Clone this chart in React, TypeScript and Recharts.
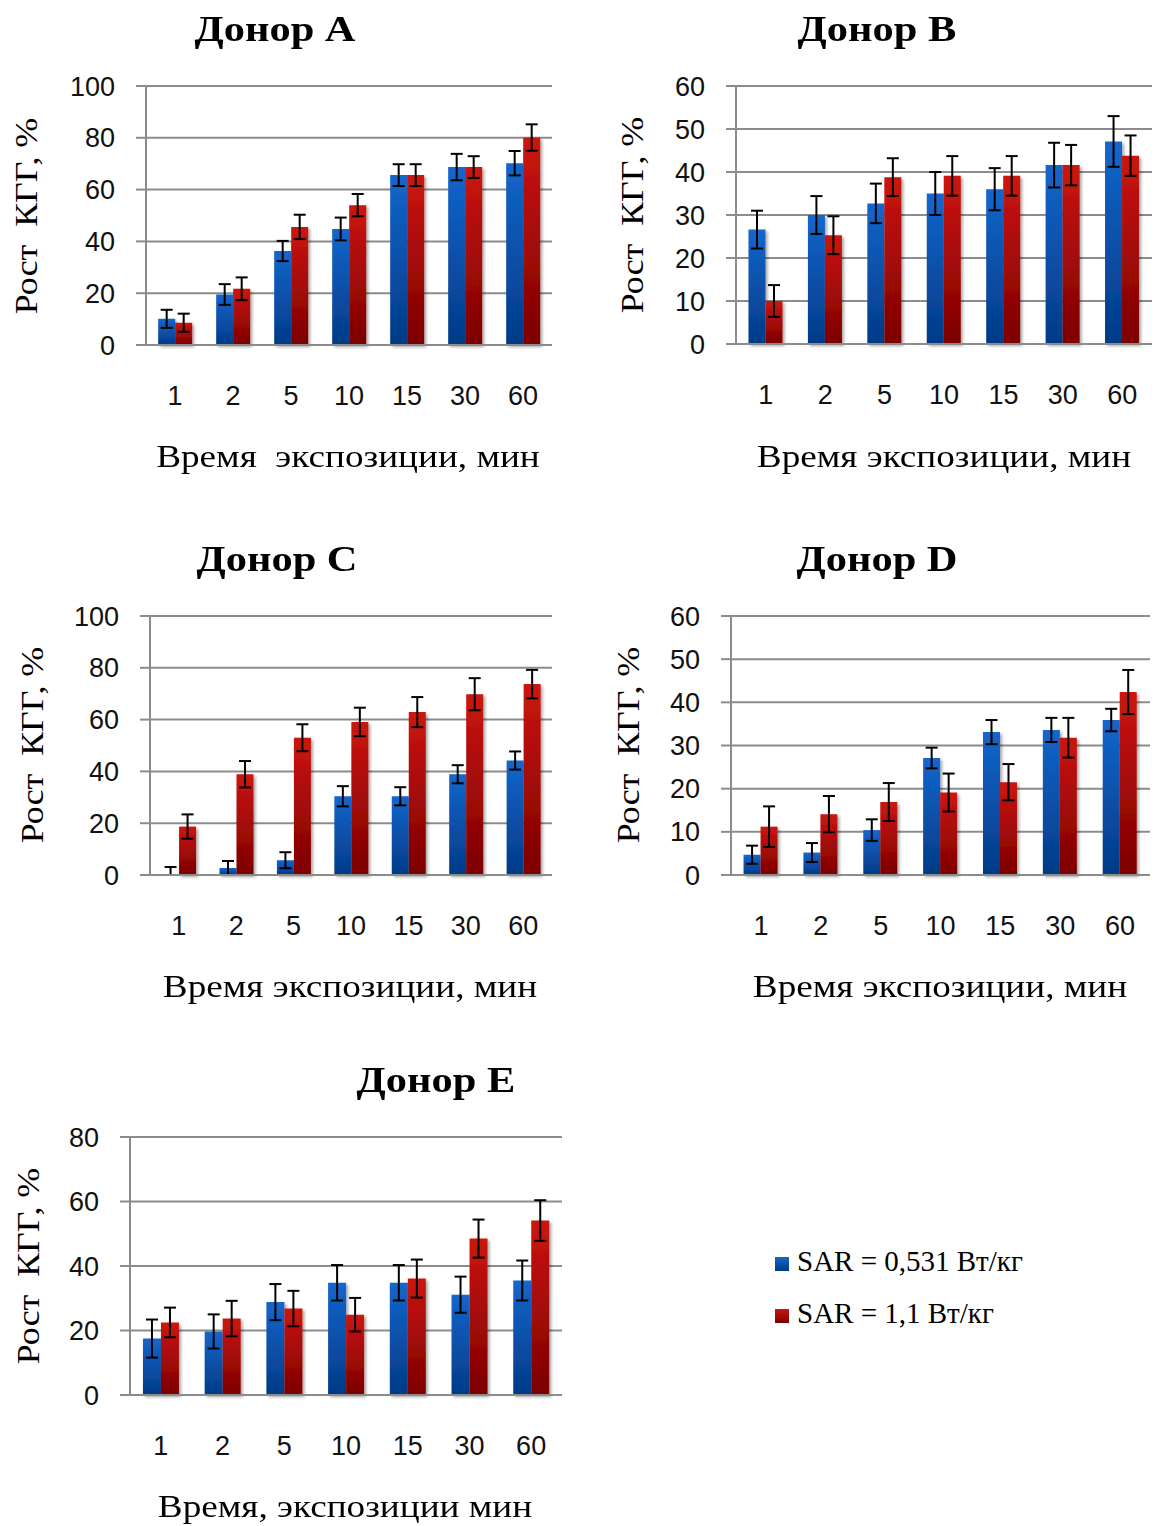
import React from 'react';
import { BarChart, Bar, XAxis, YAxis, CartesianGrid, ErrorBar, Legend } from 'recharts';

const exposure = ['1', '2', '5', '10', '15', '30', '60'];
const seriesNames = ['SAR = 0,531 Вт/кг', 'SAR = 1,1 Вт/кг'];

// Донор A
const aLow = [10.1, 19.5, 36.3, 44.8, 65.6, 68.7, 70.2];
const aLowErr = [3.5, 4.0, 3.9, 4.4, 4.2, 5.1, 4.7];
const aHigh = [8.6, 21.7, 45.6, 54.0, 65.6, 68.7, 80.1];
const aHighErr = [3.5, 4.4, 4.7, 4.3, 4.2, 4.2, 5.1];

// Донор B
const bLow = [26.6, 30.0, 32.7, 35.0, 36.0, 41.6, 47.1];
const bLowErr = [4.4, 4.4, 4.6, 5.0, 4.9, 5.2, 5.9];
const bHigh = [10.0, 25.3, 38.8, 39.1, 39.1, 41.6, 43.8];
const bHighErr = [3.7, 4.4, 4.4, 4.6, 4.6, 4.7, 4.7];

// Донор C
const cLow = [0.3, 2.7, 5.7, 30.4, 30.4, 38.9, 44.2];
const cLowErr = [2.8, 2.7, 3.1, 3.9, 3.5, 3.5, 3.5];
const cHigh = [18.7, 38.9, 53.0, 59.1, 62.9, 69.8, 73.7];
const cHighErr = [4.7, 5.1, 5.2, 5.5, 5.8, 6.2, 5.5];

// Донор D
const dLow = [4.7, 5.2, 10.4, 27.1, 33.1, 33.6, 35.9];
const dLowErr = [2.1, 2.2, 2.5, 2.4, 2.8, 2.8, 2.6];
const dHigh = [11.2, 14.1, 16.9, 19.1, 21.5, 31.8, 42.4];
const dHighErr = [4.7, 4.2, 4.4, 4.4, 4.2, 4.6, 5.1];

// Донор E
const eLow = [17.5, 19.7, 28.8, 34.8, 34.8, 31.1, 35.5];
const eLowErr = [5.9, 5.3, 5.6, 5.5, 5.5, 5.6, 6.2];
const eHigh = [22.5, 23.7, 26.8, 24.9, 36.1, 48.5, 54.1];
const eHighErr = [4.6, 5.5, 5.5, 5.2, 5.9, 5.9, 6.3];

const GRID = '#8c8c8c';
const SERIF = '"Liberation Serif", "Times New Roman", serif';
const SANS = '"Liberation Sans", Arial, sans-serif';

const Y_W = 100;
const TOP = 20;
const X_H = 80;

function buildRows(low: number[], lowErr: number[], high: number[], highErr: number[]) {
  return exposure.map((t, i) => ({
    t,
    low: low[i],
    lowErr: [Math.min(lowErr[i], low[i]), lowErr[i]],
    high: high[i],
    highErr: [Math.min(highErr[i], high[i]), highErr[i]],
  }));
}

interface PanelProps {
  rows: ReturnType<typeof buildRows>;
  plotX: number;
  plotY: number;
  plotW: number;
  plotH: number;
  yTicks: number[];
  extraRight?: number;
  legend?: { left: number; top: number };
}

function Panel({ rows, plotX, plotY, plotW, plotH, yTicks, extraRight = 0, legend }: PanelProps) {
  const left = plotX - Y_W;
  const top = plotY - TOP;
  const right = 4 + extraRight;
  return (
    <div style={{ position: 'absolute', left, top }}>
      <BarChart
        width={Y_W + plotW + right}
        height={TOP + plotH + X_H}
        data={rows}
        margin={{ top: TOP, right, left: 0, bottom: 0 }}
        barCategoryGap="21%"
        barGap={0}
      >
        <CartesianGrid vertical={false} stroke={GRID} strokeWidth={2} />
        <XAxis
          dataKey="t"
          height={X_H}
          axisLine={{ stroke: GRID, strokeWidth: 2 }}
          tickLine={false}
          tickSize={0}
          tickMargin={41}
          tick={{ fill: '#111', fontSize: 27, fontFamily: SANS }}
          interval={0}
        />
        <YAxis
          width={Y_W}
          domain={[0, yTicks[yTicks.length - 1]]}
          ticks={yTicks}
          interval={0}
          axisLine={{ stroke: GRID, strokeWidth: 2 }}
          tickLine={{ stroke: GRID, strokeWidth: 2 }}
          tickSize={10}
          tickMargin={21}
          tick={{ fill: '#111', fontSize: 27, fontFamily: SANS }}
        />
        <Bar dataKey="low" name={seriesNames[0]} fill="url(#gBlue)" filter="url(#barShadow)" isAnimationActive={false}>
          <ErrorBar dataKey="lowErr" width={6} stroke="#000" strokeWidth={2} direction="y" />
        </Bar>
        <Bar dataKey="high" name={seriesNames[1]} fill="url(#gRed)" filter="url(#barShadow)" isAnimationActive={false}>
          <ErrorBar dataKey="highErr" width={6} stroke="#000" strokeWidth={2} direction="y" />
        </Bar>
        {legend && (
          <Legend
            layout="vertical"
            align="center"
            verticalAlign="middle"
            iconType="square"
            iconSize={14}
            formatter={(v: string) => <span style={{ color: '#000', paddingLeft: 4 }}>{v}</span>}
            wrapperStyle={{
              left: legend.left - left,
              top: legend.top - top,
              width: 'auto',
              fontFamily: SERIF,
              fontSize: 29,
              lineHeight: '52px',
            }}
          />
        )}
      </BarChart>
    </div>
  );
}

function Caption({ cx, cy, text, size, bold = false, scale = 1, rotate = false }: {
  cx: number; cy: number; text: string; size: number; bold?: boolean; scale?: number; rotate?: boolean;
}) {
  return (
    <div
      style={{
        position: 'absolute',
        left: cx - 300,
        top: cy - size / 2,
        width: 600,
        height: size,
        lineHeight: `${size}px`,
        textAlign: 'center',
        whiteSpace: 'pre',
        fontFamily: SERIF,
        fontSize: size,
        fontWeight: bold ? 700 : 400,
        color: '#000',
        transform: rotate ? `rotate(-90deg) scaleX(${scale})` : `scaleX(${scale})`,
        transformOrigin: 'center',
      }}
    >
      {text}
    </div>
  );
}

export default function App() {
  const yLabel = 'Рост  КГГ, %';
  return (
    <div style={{ position: 'absolute', left: 0, top: 0, width: 1157, height: 1526, background: '#fff', overflow: 'hidden' }}>
      <svg width={0} height={0} style={{ position: 'absolute' }}>
        <defs>
          <linearGradient id="gBlue" x1="0" y1="0" x2="0" y2="1">
            <stop offset="0%" stopColor="#1466cc" />
            <stop offset="100%" stopColor="#023a86" />
          </linearGradient>
          <linearGradient id="gRed" x1="0" y1="0" x2="0" y2="1">
            <stop offset="0%" stopColor="#cc1510" />
            <stop offset="100%" stopColor="#7c0000" />
          </linearGradient>
          <filter id="barShadow" x="-20%" y="-20%" width="150%" height="150%">
            <feDropShadow dx="2" dy="2" stdDeviation="1.5" floodColor="#000" floodOpacity="0.35" />
          </filter>
        </defs>
      </svg>

      <Panel rows={buildRows(aLow, aLowErr, aHigh, aHighErr)} plotX={146} plotY={86} plotW={406} plotH={259} yTicks={[0, 20, 40, 60, 80, 100]} />
      <Panel rows={buildRows(bLow, bLowErr, bHigh, bHighErr)} plotX={736} plotY={86} plotW={416} plotH={258} yTicks={[0, 10, 20, 30, 40, 50, 60]} />
      <Panel rows={buildRows(cLow, cLowErr, cHigh, cHighErr)} plotX={150} plotY={616} plotW={402} plotH={259} yTicks={[0, 20, 40, 60, 80, 100]} />
      <Panel rows={buildRows(dLow, dLowErr, dHigh, dHighErr)} plotX={731} plotY={616} plotW={419} plotH={259} yTicks={[0, 10, 20, 30, 40, 50, 60]} />
      <Panel
        rows={buildRows(eLow, eLowErr, eHigh, eHighErr)}
        plotX={130}
        plotY={1137}
        plotW={432}
        plotH={258}
        yTicks={[0, 20, 40, 60, 80]}
        extraRight={480}
        legend={{ left: 775, top: 1235 }}
      />

      <Caption cx={275} cy={29} text="Донор А" size={36} bold scale={1.18} />
      <Caption cx={877} cy={29} text="Донор B" size={36} bold scale={1.18} />
      <Caption cx={277} cy={559} text="Донор С" size={36} bold scale={1.18} />
      <Caption cx={877} cy={559} text="Донор D" size={36} bold scale={1.18} />
      <Caption cx={436} cy={1080} text="Донор Е" size={36} bold scale={1.18} />

      <Caption cx={26} cy={216} text={yLabel} size={32} rotate scale={1.12} />
      <Caption cx={632} cy={215} text={yLabel} size={32} rotate scale={1.12} />
      <Caption cx={32} cy={745} text={yLabel} size={32} rotate scale={1.12} />
      <Caption cx={628} cy={745} text={yLabel} size={32} rotate scale={1.12} />
      <Caption cx={28} cy={1266} text={yLabel} size={32} rotate scale={1.12} />

      <Caption cx={348} cy={456} text="Время  экспозиции, мин" size={31} scale={1.2} />
      <Caption cx={944} cy={456} text="Время экспозиции, мин" size={31} scale={1.2} />
      <Caption cx={350} cy={986} text="Время экспозиции, мин" size={31} scale={1.2} />
      <Caption cx={940} cy={986} text="Время экспозиции, мин" size={31} scale={1.2} />
      <Caption cx={345} cy={1506} text="Время, экспозиции мин" size={31} scale={1.2} />
    </div>
  );
}
